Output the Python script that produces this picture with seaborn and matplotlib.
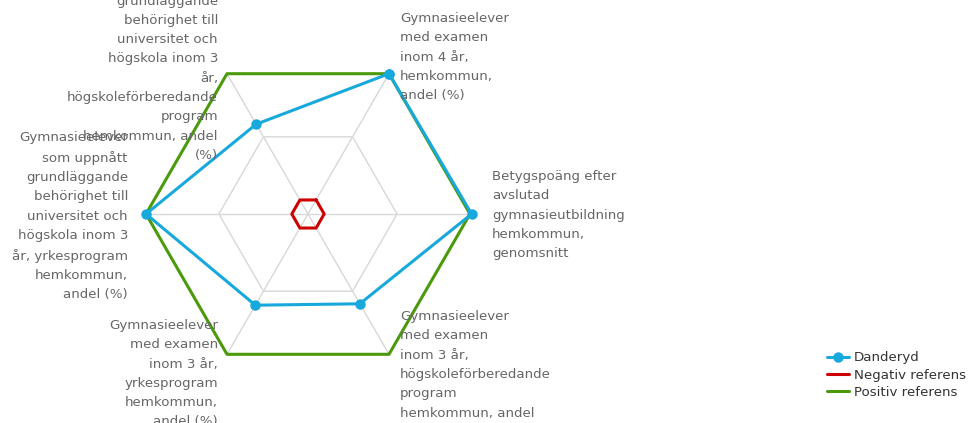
import numpy as np
import pandas as pd
import matplotlib
matplotlib.use('Agg')
import matplotlib.pyplot as plt
import seaborn as sns

axis_labels = [
    "Gymnasieelever\nmed examen\ninom 4 år,\nhemkommun,\nandel (%)",
    "Betygspoäng efter\navslutad\ngymnasieutbildning\nhemkommun,\ngenomsnitt",
    "Gymnasieelever\nmed examen\ninom 3 år,\nhögskoleförberedande\nprogram\nhemkommun, andel\n(%)",
    "Gymnasieelever\nmed examen\ninom 3 år,\nyrkesprogram\nhemkommun,\nandel (%)",
    "Gymnasieelever\nsom uppnått\ngrundläggande\nbehörighet till\nuniversitet och\nhögskola inom 3\når, yrkesprogram\nhemkommun,\nandel (%)",
    "Gymnasieelever\nsom uppnått\ngrundläggande\nbehörighet till\nuniversitet och\nhögskola inom 3\når,\nhögskoleförberedande\nprogram\nhemkommun, andel\n(%)",
]
danderyd = [1.0, 1.01, 0.64, 0.65, 1.0, 0.64]
negativ = [0.1, 0.1, 0.1, 0.1, 0.1, 0.1]
positiv = [1.0, 1.0, 1.0, 1.0, 1.0, 1.0]
grid_rings = [0.55, 1.0]

angles = np.deg2rad(60 - 60 * np.arange(6))

def to_xy(vals):
    v = np.append(vals, vals[0])
    a = np.append(angles, angles[0])
    return v * np.cos(a), v * np.sin(a)

sns.set_style('white')
plt.rcParams['font.family'] = ['DejaVu Sans']

fig = plt.figure(figsize=(9.7, 4.23), dpi=100)
ax = fig.add_axes([0, 0, 1, 1])
R = 162.0
cx, cy = 308.0, 214.0
ax.set_xlim(-cx / R, (970 - cx) / R)
ax.set_ylim(-(423 - cy) / R, cy / R)
ax.axis('off')

# hexagon grid
grid_col = '#d8d8d8'
for g in grid_rings:
    gx, gy = to_xy([g] * 6)
    ax.plot(gx, gy, color=grid_col, lw=1, zorder=1)
for a in angles:
    ax.plot([0, np.cos(a)], [0, np.sin(a)], color=grid_col, lw=1, zorder=1)

series = [
    ('Positiv referens', positiv, '#4a9a0b', None),
    ('Negativ referens', negativ, '#cc0000', None),
    ('Danderyd', danderyd, '#18a9dc', 'o'),
]
handles = {}
for name, vals, col, mk in series:
    x, y = to_xy(vals)
    df = pd.DataFrame({'x': x, 'y': y})
    sns.lineplot(data=df, x='x', y='y', sort=False, estimator=None, ax=ax,
                 color=col, lw=2.2, marker=mk, markersize=7.5,
                 markeredgewidth=0, zorder=3, label=name)
    handles[name] = ax.lines[-1]

# axis labels
lab_pos = [
    ((400 - cx) / R, (cy - 12) / R, 'left', 'top'),
    ((492 - cx) / R, (cy - 215) / R, 'left', 'center'),
    ((400 - cx) / R, (cy - 310) / R, 'left', 'top'),
    ((218 - cx) / R, (cy - 319) / R, 'right', 'top'),
    ((128 - cx) / R, (cy - 216) / R, 'right', 'center'),
    ((218 - cx) / R, (cy - 162) / R, 'right', 'bottom'),
]
for lab, (lx, ly, ha, va) in zip(axis_labels, lab_pos):
    ax.text(lx, ly, lab, ha=ha, va=va, fontsize=9.6, color='#666666',
            linespacing=1.63, ma=ha, clip_on=False)

order = ['Danderyd', 'Negativ referens', 'Positiv referens']
leg = ax.legend([handles[n] for n in order], order, loc='upper left',
                bbox_to_anchor=(822 / 970, 1 - 346 / 423), frameon=False,
                fontsize=9.6, handlelength=1.6, handletextpad=0.4,
                labelspacing=0.32, borderaxespad=0)
for t in leg.get_texts():
    t.set_color('#333333')

fig.savefig('out.png', dpi=100)
